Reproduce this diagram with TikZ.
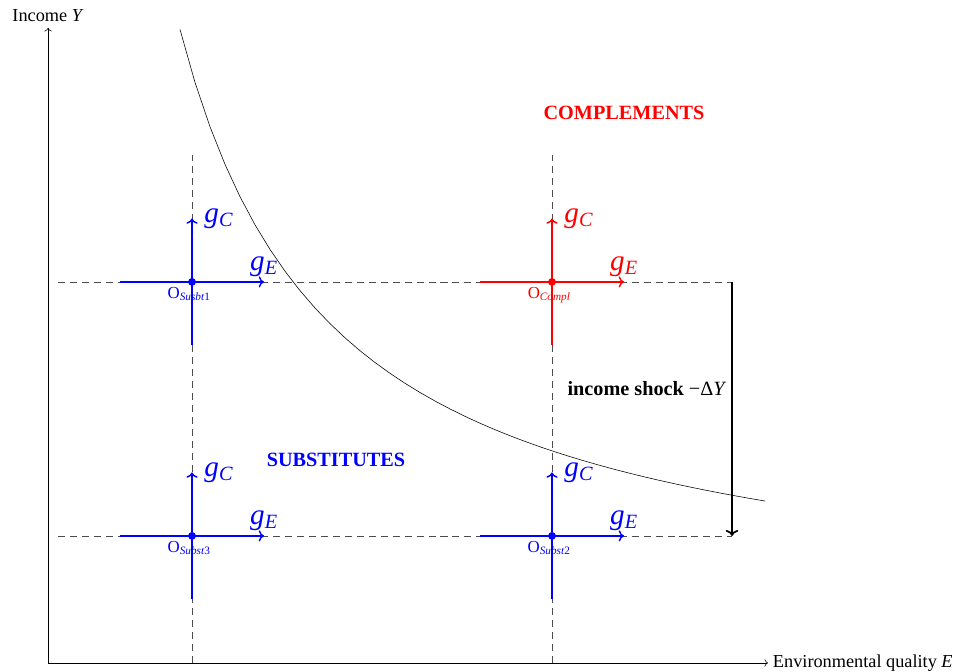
\documentclass[tikz,border=0pt]{standalone}
\usepackage{fontspec}
\setmainfont{Liberation Serif}
\usetikzlibrary{arrows.meta, positioning, calc}
\newcommand{\gsub}[1]{\textit{g}\textsubscript{\textit{#1}}}

\begin{document}
\begin{tikzpicture}[x=1.8cm, y=3.175cm,
  guide/.style={dash pattern=on 5pt off 3.5pt, draw opacity=0.7},
  growarrow/.style={->, line width=1pt},
  tag/.style={font=\Large\bfseries},
  axislabel/.style={font=\fontsize{13}{15}\selectfont},
  glabel/.style={font=\huge},
  olabel/.style={font=\large, below, xshift=-2pt}]
  \useasboundingbox (-0.667,-0.071) rectangle (12.861,5.22);
  % axes
  \coordinate (O) at (0,0);
  \coordinate (xend) at (10,0);
  \coordinate (yend) at (0,5);
  \draw[->] (O) -- (xend) node[axislabel, right] {Environmental quality \textit{E}};
  \draw[->] (O) -- (yend) node[axislabel, above, yshift=1pt] {Income \textit{Y}};
  % starting points
  \coordinate (S1) at (2,3);
  \coordinate (C) at (7,3);
  \coordinate (S3) at (2,1);
  \coordinate (S2) at (7,1);
  \coordinate (shock top) at (9.5,3);
  \coordinate (shock bot) at (9.5,1);
  % indifference curve
  \draw plot[domain=1.833:9.96, samples=40] (\x, {10/(\x+0.3)+0.3});
  % dashed guides
  \draw[guide] (S1 |- O) -- ($(S1)+(0,1)$);
  \draw[guide] (C |- O) -- ($(C)+(0,1)$);
  \draw[guide] (0.14,3) -- (shock top);
  \draw[guide] (0.14,1) -- (shock bot);
  % growth directions
  \foreach \p/\c in {S1/blue, S3/blue, S2/blue, C/red} {
    \draw[growarrow, \c] ($(\p)+(-1,0)$) -- ($(\p)+(1,0)$) node[glabel, above] {\gsub{E}};
    \draw[growarrow, \c] ($(\p)+(0,-0.5)$) -- ($(\p)+(0,0.5)$) node[glabel, right, xshift=5pt] {\gsub{C}};
  }
  % dots and names
  \fill[blue] (S1) circle (2.8pt) node[olabel, blue] {O\textsubscript{\textit{Susbt}1}};
  \fill[red] (C) circle (2.8pt) node[olabel, red] {O\textsubscript{\textit{Compl}}};
  \fill[blue] (S3) circle (2.8pt) node[olabel, blue] {O\textsubscript{\textit{Subst}3}};
  \fill[blue] (S2) circle (2.8pt) node[olabel, blue] {O\textsubscript{\textit{Subst}2}};
  % income shock
  \draw[->, very thick] (shock top) -- (shock bot)
    node[pos=0.42, left] {\Large\textbf{income shock} −Δ\textit{Y}};
  \node[tag, red] (compl tag) at (8,4.33) {COMPLEMENTS};
  \node[tag, blue] (subst tag) at (4,1.6) {SUBSTITUTES};
\end{tikzpicture}
\end{document}
